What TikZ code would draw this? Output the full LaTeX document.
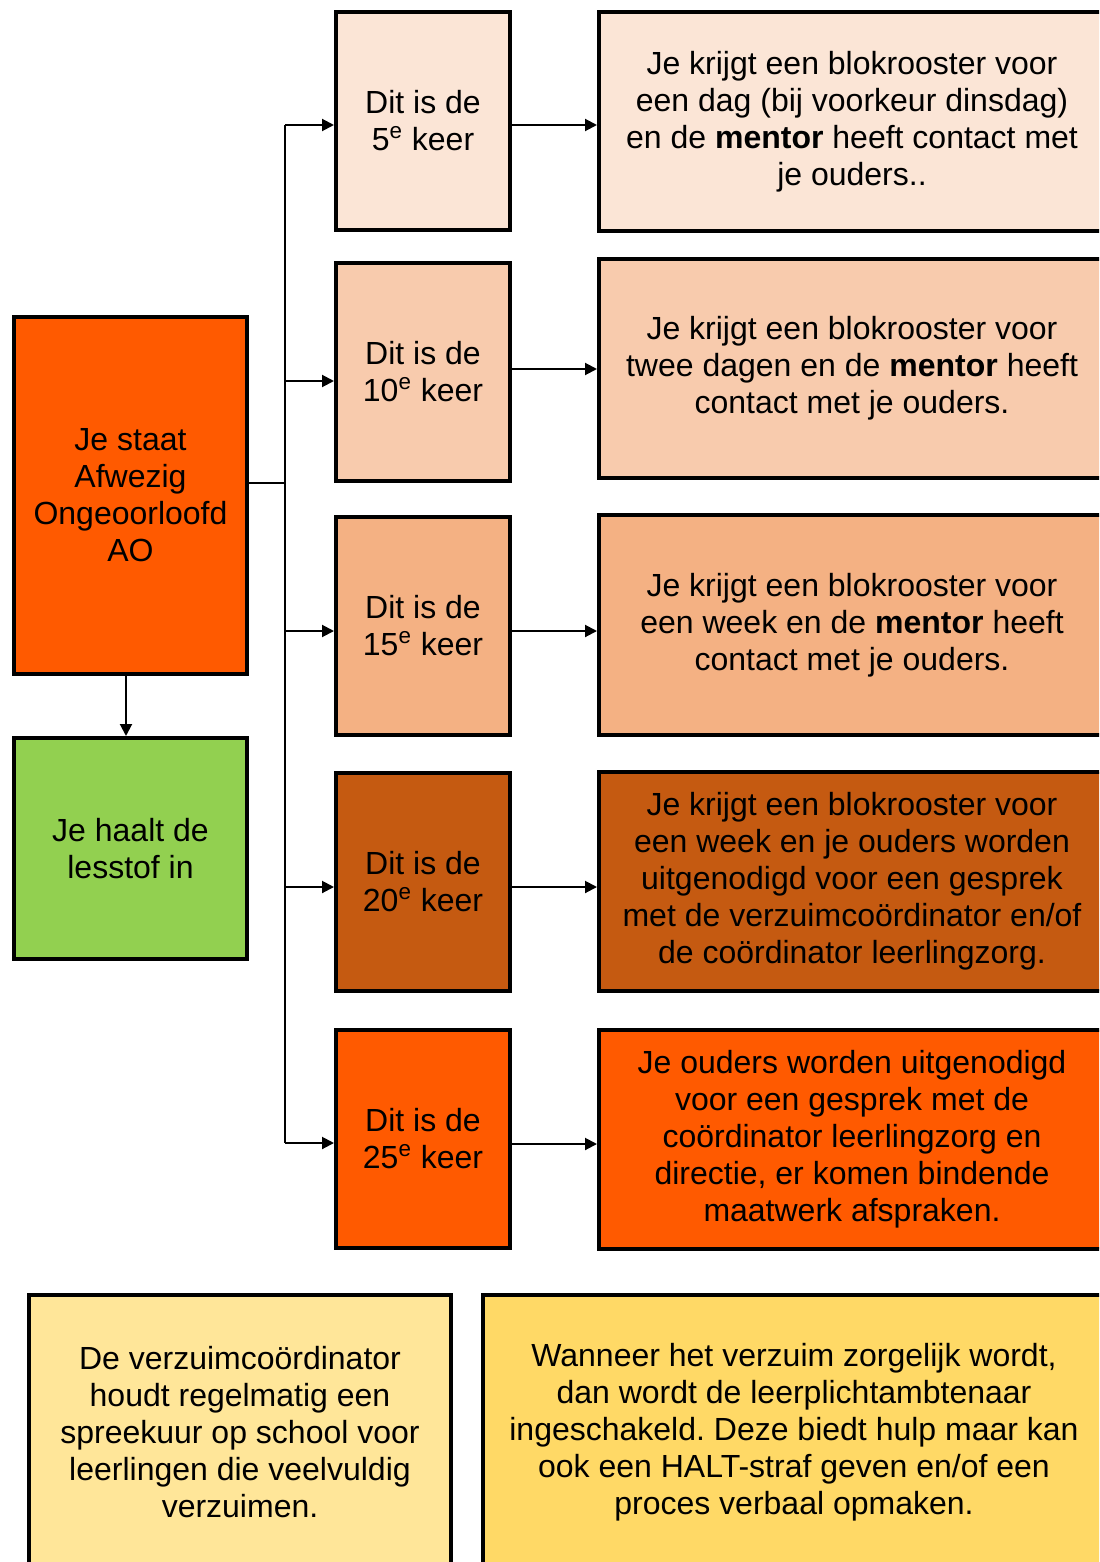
\documentclass[tikz,border=0pt]{standalone}
\usepackage{fontspec}
\setmainfont{Liberation Sans}
\usetikzlibrary{arrows.meta}
\frenchspacing
\definecolor{aoorange}{HTML}{FF5A00}
\definecolor{green1}{HTML}{92D050}
\definecolor{peach1}{HTML}{FBE5D6}
\definecolor{peach2}{HTML}{F8CBAD}
\definecolor{peach3}{HTML}{F4B183}
\definecolor{brown4}{HTML}{C55A11}
\definecolor{yel1}{HTML}{FFE699}
\definecolor{yel2}{HTML}{FFD966}
\tikzset{
  box/.style={draw=black, line width=2pt, align=center, inner sep=2pt,
    font=\fontsize{16}{18.5}\selectfont},
  midbox/.style={box, minimum width=87pt, minimum height=109pt},
  rightbox/.style={box, minimum width=253pt, minimum height=109.5pt},
  conn/.style={line width=1pt},
  arr/.style={line width=1pt, -{Triangle[length=6pt,width=6pt]}}
}
\begin{document}
\begin{tikzpicture}[x=0.5pt,y=-0.5pt]
\useasboundingbox (0,0) rectangle (1099,1562);
\clip (0,0) rectangle (1099,1562);
\fill[white] (0,0) rectangle (1099,1562);
% left column
\node[box, fill=aoorange, minimum width=116.5pt, minimum height=178.5pt] (ao) at (130.5,495.5)
  {Je staat\\Afwezig\\Ongeoorloofd\\AO};
\node[box, fill=green1, minimum width=116.5pt, minimum height=110.5pt] (gr) at (130.5,848.5)
  {Je haalt de\\lesstof in};
% middle column
\node[midbox, fill=peach1] (m1) at (423,121) {Dit is de\\5\textsuperscript{e} keer};
\node[midbox, fill=peach2] (m2) at (423,372) {Dit is de\\10\textsuperscript{e} keer};
\node[midbox, fill=peach3] (m3) at (423,626) {Dit is de\\15\textsuperscript{e} keer};
\node[midbox, fill=brown4] (m4) at (423,882) {Dit is de\\20\textsuperscript{e} keer};
\node[midbox, fill=aoorange] (m5) at (423,1139) {Dit is de\\25\textsuperscript{e} keer};
% right column
\node[rightbox, fill=peach1] (r1) at (852,121.5)
  {Je krijgt een blokrooster voor\\een dag (bij voorkeur dinsdag)\\en de \textbf{mentor} heeft contact met\\je ouders..};
\node[rightbox, fill=peach2] (r2) at (852,368.5)
  {Je krijgt een blokrooster voor\\twee dagen en de \textbf{mentor} heeft\\contact met je ouders.};
\node[rightbox, fill=peach3, minimum height=110pt] (r3) at (852,625)
  {Je krijgt een blokrooster voor\\een week en de \textbf{mentor} heeft\\contact met je ouders.};
\node[rightbox, fill=brown4] (r4) at (852,881.5)
  {Je krijgt een blokrooster voor\\een week en je ouders worden\\uitgenodigd voor een gesprek\\met de verzuimcoördinator en/of\\de coördinator leerlingzorg.};
\node[rightbox, fill=aoorange] (r5) at (852,1139.5)
  {Je ouders worden uitgenodigd\\voor een gesprek met de\\coördinator leerlingzorg en\\directie, er komen bindende\\maatwerk afspraken.};
% bottom
\node[box, fill=yel1, minimum width=211pt, minimum height=137pt] (bl) at (240,1432)
  {De verzuimcoördinator\\houdt regelmatig een\\spreekuur op school voor\\leerlingen die veelvuldig\\verzuimen.};
\node[box, fill=yel2, minimum width=311pt, minimum height=137pt] (br) at (794,1432)
  {Wanneer het verzuim zorgelijk wordt,\\dan wordt de leerplichtambtenaar\\ingeschakeld. Deze biedt hulp maar kan\\ook een HALT-straf geven en/of een\\proces verbaal opmaken.};
% connector coordinates
\coordinate (j) at (285,483);
\coordinate (t1) at (285,125);
\coordinate (t2) at (285,381);
\coordinate (t3) at (285,631);
\coordinate (t4) at (285,887);
\coordinate (t5) at (285,1143);
\coordinate (a1) at (555,125);
\coordinate (a2) at (555,369);
\coordinate (a3) at (555,631);
\coordinate (a4) at (555,887);
\coordinate (a5) at (555,1144);
\coordinate (dx) at (126,700);
% connectors
\draw[conn] (ao.east |- j) -- (j);
\draw[conn] (t1) -- (t5);
\draw[arr] (t1) -- (m1.west |- t1);
\draw[arr] (t2) -- (m2.west |- t2);
\draw[arr] (t3) -- (m3.west |- t3);
\draw[arr] (t4) -- (m4.west |- t4);
\draw[arr] (t5) -- (m5.west |- t5);
\draw[arr] (m1.east |- a1) -- (r1.west |- a1);
\draw[arr] (m2.east |- a2) -- (r2.west |- a2);
\draw[arr] (m3.east |- a3) -- (r3.west |- a3);
\draw[arr] (m4.east |- a4) -- (r4.west |- a4);
\draw[arr] (m5.east |- a5) -- (r5.west |- a5);
\draw[arr] (ao.south -| dx) -- (gr.north -| dx);
\end{tikzpicture}
\end{document}
